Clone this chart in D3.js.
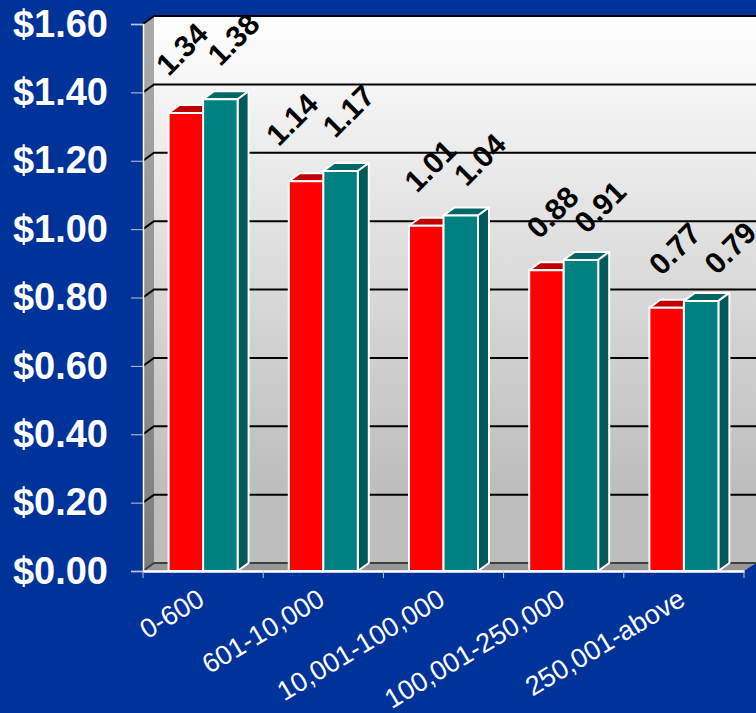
<!DOCTYPE html>
<html>
<head>
<meta charset="utf-8">
<script src="https://cdn.jsdelivr.net/npm/d3@7"></script>
<style>
  html, body { margin: 0; padding: 0; background: #003399; overflow: hidden; }
  svg { display: block; }
  text { font-family: "Liberation Sans", Arial, sans-serif; }
</style>
</head>
<body>
<div id="chart"></div>
<script>
// values
const categories = ['0-600', '601-10,000', '10,001-100,000', '100,001-250,000', '250,001-above'];
const seriesNames = ['a', 'b'];
const seriesA = [1.34, 1.14, 1.01, 0.88, 0.77];
const seriesB = [1.38, 1.17, 1.04, 0.91, 0.79];
const yTicks = [0, 0.2, 0.4, 0.6, 0.8, 1.0, 1.2, 1.4, 1.6];

const width = 756, height = 713;
const plotLeft = 143, plotRight = 744, plotTop = 24, plotBottom = 571;
const depthX = 11, depthY = 8;

const colors = {
  a: { front: '#ff0000', top: '#c00000', side: '#900000' },
  b: { front: '#008080', top: '#006666', side: '#005a5a' }
};

// the data labels sit irregularly in the source, so each one gets a nudge
const labelNudge = {
  a: [[-4, -64], [-14, -62], [4, -60], [6, -58], [8, -59]],
  b: [[13, -60], [8, -60], [19, -56], [19, -53], [29, -53]]
};

const svg = d3.select('#chart').append('svg').attr('width', width).attr('height', height);

const x = d3.scaleBand().domain(categories).range([plotLeft, plotRight]);
const xInner = d3.scaleBand().domain(seriesNames).range([0, x.bandwidth()]).paddingOuter(0.742);
const y = d3.scaleLinear().domain([0, 1.6]).range([plotBottom, plotTop]);

const defs = svg.append('defs');
function addGradient(id, c0, c1, stopAt) {
  const g = defs.append('linearGradient').attr('id', id).attr('x1', 0).attr('y1', 0).attr('x2', 0).attr('y2', 1);
  g.append('stop').attr('offset', '0%').attr('stop-color', c0);
  g.append('stop').attr('offset', stopAt).attr('stop-color', c1);
}
addGradient('wall', '#ffffff', '#bebebe', '85%');
addGradient('sideWall', '#ababab', '#7c7c7c', '100%');

const pts = a => a.map(p => p.join(',')).join(' ');

// back wall, side wall, floor
svg.append('rect')
  .attr('x', plotLeft + depthX).attr('y', plotTop - depthY)
  .attr('width', width - plotLeft - depthX).attr('height', plotBottom - plotTop)
  .attr('fill', 'url(#wall)');
svg.append('polygon')
  .attr('points', pts([[plotLeft, plotTop], [plotLeft + depthX, plotTop - depthY], [plotLeft + depthX, plotBottom - depthY], [plotLeft, plotBottom]]))
  .attr('fill', 'url(#sideWall)');
svg.append('polygon')
  .attr('points', pts([[plotLeft, plotBottom], [plotLeft + depthX, plotBottom - depthY], [width, plotBottom - depthY], [plotRight, plotBottom]]))
  .attr('fill', '#969696');

// gridlines run along the side wall and then the back wall
svg.append('g').selectAll('polyline').data(yTicks).enter().append('polyline')
  .attr('points', d => pts([[plotLeft, y(d)], [plotLeft + depthX, y(d) - depthY], [width, y(d) - depthY]]))
  .attr('fill', 'none')
  .attr('stroke', d => d === 0 ? '#404040' : '#000000')
  .attr('stroke-width', 2);

// bars
const barData = [];
categories.forEach((c, i) => {
  barData.push({ cat: c, s: 'a', v: seriesA[i], i: i });
  barData.push({ cat: c, s: 'b', v: seriesB[i], i: i });
});

const bars = svg.append('g').selectAll('g').data(barData).enter().append('g')
  .attr('stroke', '#ffffff').attr('stroke-width', 2).attr('stroke-linejoin', 'round');

bars.append('polygon')
  .attr('points', d => {
    const x0 = x(d.cat) + xInner(d.s), x1 = x0 + xInner.bandwidth(), yv = y(d.v);
    return pts([[x0, yv], [x0 + depthX, yv - depthY], [x1 + depthX, yv - depthY], [x1, yv]]);
  })
  .attr('fill', d => colors[d.s].top);

bars.append('polygon')
  .attr('points', d => {
    const x1 = x(d.cat) + xInner(d.s) + xInner.bandwidth(), yv = y(d.v);
    return pts([[x1, yv], [x1 + depthX, yv - depthY], [x1 + depthX, y(0) - depthY], [x1, y(0)]]);
  })
  .attr('fill', d => colors[d.s].side);

bars.append('rect')
  .attr('x', d => x(d.cat) + xInner(d.s))
  .attr('y', d => y(d.v))
  .attr('width', xInner.bandwidth())
  .attr('height', d => y(0) - y(d.v))
  .attr('fill', d => colors[d.s].front);

// y axis
const yAxis = svg.append('g')
  .attr('transform', 'translate(' + plotLeft + ',0)')
  .call(d3.axisLeft(y).tickValues(yTicks).tickSize(12).tickPadding(23).tickFormat(d => '$' + d.toFixed(2)));
yAxis.select('.domain').attr('stroke', '#ffffff').attr('stroke-width', 1.5);
yAxis.selectAll('.tick line').attr('stroke', '#b8c6e4').attr('stroke-width', 1);
yAxis.selectAll('text')
  .attr('fill', '#ffffff').attr('font-size', 38).attr('font-weight', 'bold')
  .attr('font-family', '"Liberation Sans", Arial, sans-serif');

// x axis, labels hang from the band centre
const xAxis = svg.append('g')
  .attr('transform', 'translate(0,' + plotBottom + ')')
  .call(d3.axisBottom(x).tickSize(0).tickPadding(0));
xAxis.select('.domain').attr('stroke', '#ffffff').attr('stroke-width', 2.5);
xAxis.selectAll('text')
  .attr('fill', '#ffffff').attr('font-size', 27)
  .attr('font-family', '"Liberation Sans", Arial, sans-serif')
  .attr('text-anchor', 'end')
  .attr('dy', null)
  .attr('y', 0)
  .attr('transform', 'translate(3,33) rotate(-31)');

// tick marks at the band edges
const edges = categories.map(c => x(c)).concat([plotRight]);
svg.append('g').selectAll('line').data(edges).enter().append('line')
  .attr('x1', d => d).attr('x2', d => d)
  .attr('y1', plotBottom).attr('y2', plotBottom + 7)
  .attr('stroke', '#b8c6e4').attr('stroke-width', 1);

// data labels
svg.append('g').selectAll('text').data(barData).enter().append('text')
  .attr('transform', d => {
    const n = labelNudge[d.s][d.i];
    const cx = x(d.cat) + xInner(d.s) + xInner.bandwidth() / 2 + n[0];
    return 'translate(' + cx + ',' + (y(d.v) + n[1]) + ') rotate(-45)';
  })
  .attr('text-anchor', 'middle')
  .attr('dominant-baseline', 'central')
  .attr('font-size', 30)
  .attr('font-weight', 'bold')
  .attr('fill', '#000000')
  .text(d => d.v.toFixed(2));
</script>
</body>
</html>
